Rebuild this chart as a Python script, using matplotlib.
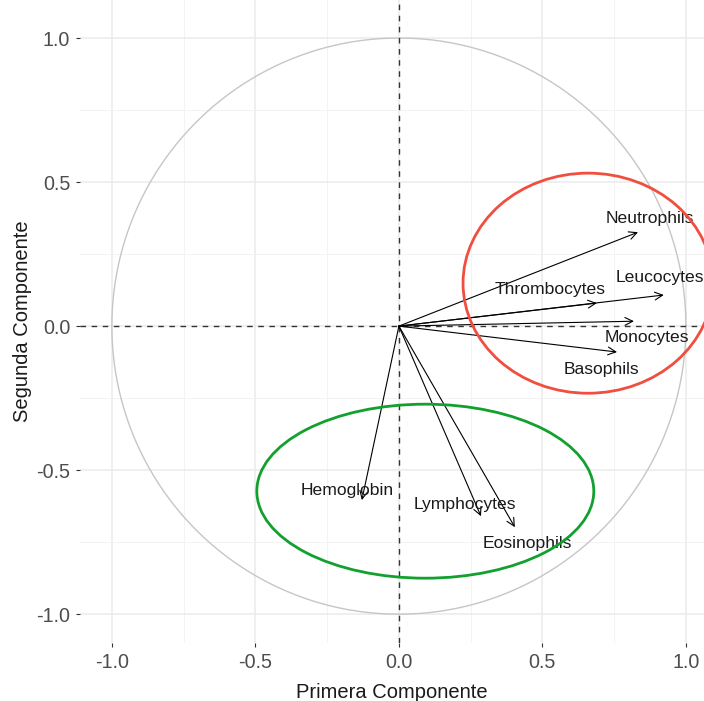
import numpy as np
import matplotlib.pyplot as plt
from matplotlib.patches import Ellipse

plt.rcParams['font.family'] = ['Liberation Sans', 'DejaVu Sans']

# loadings (arrow tips) on the first two components
variables = ['Neutrophils', 'Leucocytes', 'Thrombocytes', 'Monocytes', 'Basophils',
             'Hemoglobin', 'Lymphocytes', 'Eosinophils']
pc1 = [0.833, 0.923, 0.690, 0.819, 0.760, -0.129, 0.286, 0.404]
pc2 = [0.326, 0.108, 0.080, 0.017, -0.090, -0.604, -0.660, -0.698]

# where each label was placed
label_x = [0.875, 0.909, 0.526, 0.864, 0.707, -0.181, 0.230, 0.449]
label_y = [0.372, 0.167, 0.128, -0.038, -0.149, -0.569, -0.618, -0.753]

# hand drawn groups: centre x, centre y, width, height
red_group = [0.659, 0.149, 0.871, 0.764]
green_group = [0.092, -0.573, 1.174, 0.604]

fig = plt.figure(figsize=(7.04, 7.01), dpi=100)
ax = fig.add_axes([80 / 704, 58 / 701, 624 / 704, 643 / 701])

# unit circle
t = np.linspace(0, 2 * np.pi, 400)
ax.plot(np.cos(t), np.sin(t), color='#c6c6c6', lw=1.0, zorder=2)

ax.axhline(0, color='#333333', ls=(0, (4, 4)), lw=1.0, zorder=3)
ax.axvline(0, color='#333333', ls=(0, (4, 4)), lw=1.0, zorder=3)

for i in range(len(variables)):
    ax.annotate('', xy=(pc1[i], pc2[i]), xytext=(0, 0),
                arrowprops=dict(arrowstyle='->', color='black', lw=0.8,
                                mutation_scale=14, shrinkA=0, shrinkB=0),
                zorder=4)
    ax.text(label_x[i], label_y[i], variables[i], ha='center', va='center',
            fontsize=12.6, color='#1a1a1a', zorder=5)

ax.add_patch(Ellipse((red_group[0], red_group[1]), red_group[2], red_group[3],
                     fill=False, edgecolor='#f04e3e', lw=2.0, zorder=6))
ax.add_patch(Ellipse((green_group[0], green_group[1]), green_group[2], green_group[3],
                     fill=False, edgecolor='#12a02e', lw=2.0, zorder=6))

ax.set_xlim(-1.111, 1.063)
ax.set_ylim(-1.10, 1.132)

ticks = [-1.0, -0.5, 0.0, 0.5, 1.0]
ax.set_xticks(ticks)
ax.set_yticks(ticks)
ax.set_xticklabels(['-1.0', '-0.5', '0.0', '0.5', '1.0'])
ax.set_yticklabels(['-1.0', '-0.5', '0.0', '0.5', '1.0'])
ax.set_xticks(np.arange(-1.0, 1.01, 0.25), minor=True)
ax.set_yticks(np.arange(-1.0, 1.01, 0.25), minor=True)
ax.grid(which='major', color='#ebebeb', lw=1.1, zorder=0)
ax.grid(which='minor', color='#f3f3f3', lw=0.7, zorder=0)
ax.set_axisbelow(True)
ax.tick_params(which='major', length=3, color='#333333', labelsize=14.2,
               labelcolor='#4d4d4d', pad=4)
ax.tick_params(which='minor', length=0)
for s in ax.spines.values():
    s.set_visible(False)

ax.set_xlabel('Primera Componente', fontsize=14.5, color='#1a1a1a', labelpad=8)
ax.set_ylabel('Segunda Componente', fontsize=14.5, color='#1a1a1a', labelpad=3)

fig.savefig('out.png', dpi=100)
